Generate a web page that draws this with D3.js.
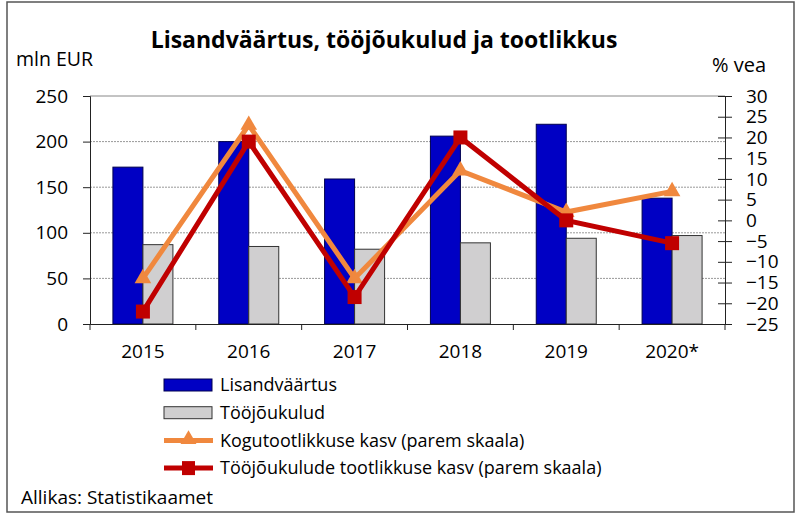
<!DOCTYPE html>
<html>
<head>
<meta charset="utf-8">
<script src="https://d3js.org/d3.v7.min.js"></script>
<style>
    body { margin: 0; background: #fff; }
    text { font-family: "Open Sans", sans-serif; fill: #000; }
</style>
</head>
<body>
<script>
    var years = ["2015", "2016", "2017", "2018", "2019", "2020*"];
    var lisandvaartus = [172, 200, 159, 206, 219, 138];
    var toojoukulud = [87, 85, 82, 89, 94, 97];
    var kogutootlikkus = [-14, 23, -14, 12, 2, 7];
    var toojouTootlikkus = [-22, 19, -18.5, 20, 0, -5.5];
    var leftTicks = [0, 50, 100, 150, 200, 250];
    var rightTicks = [-25, -20, -15, -10, -5, 0, 5, 10, 15, 20, 25, 30];

    var width = 805, height = 524;
    var svg = d3.select("body").append("svg")
        .attr("width", width)
        .attr("height", height);

    // outer frame
    svg.append("rect")
        .attr("x", 7).attr("y", 2)
        .attr("width", 787).attr("height", 510)
        .attr("fill", "#fff")
        .attr("stroke", "#555")
        .attr("stroke-width", 1.5);

    var plotL = 90, plotR = 725, plotT = 96, plotB = 324;

    var x = d3.scaleBand().domain(years).range([plotL, plotR]);
    var yL = d3.scaleLinear().domain([0, 250]).range([plotB, plotT]);
    var yR = d3.scaleLinear().domain([-25, 30]).range([plotB, plotT]);

    // grid
    svg.append("g").selectAll("line")
        .data(leftTicks.filter(d => d > 0 && d < 250))
        .enter().append("line")
        .attr("x1", plotL).attr("x2", plotR)
        .attr("y1", d => yL(d)).attr("y2", d => yL(d))
        .attr("stroke", "#999")
        .attr("stroke-dasharray", "2,1");

    svg.append("line")
        .attr("x1", plotL).attr("x2", plotR)
        .attr("y1", plotT).attr("y2", plotT)
        .attr("stroke", "#888");

    // bars
    var barW = 30;
    var bars = svg.append("g");
    bars.selectAll(".blue").data(lisandvaartus).enter().append("rect")
        .attr("x", (d, i) => x(years[i]) + x.bandwidth() / 2 - barW)
        .attr("y", d => yL(d))
        .attr("width", barW)
        .attr("height", d => yL(0) - yL(d))
        .attr("fill", "#0000c4")
        .attr("stroke", "#000050")
        .attr("stroke-width", 1);
    bars.selectAll(".grey").data(toojoukulud).enter().append("rect")
        .attr("x", (d, i) => x(years[i]) + x.bandwidth() / 2)
        .attr("y", d => yL(d))
        .attr("width", barW)
        .attr("height", d => yL(0) - yL(d))
        .attr("fill", "#d0cfd0")
        .attr("stroke", "#333")
        .attr("stroke-width", 1);

    // axes
    var leftAxis = d3.axisLeft(yL).tickValues(leftTicks).tickSize(7).tickPadding(15);
    var gl = svg.append("g").attr("transform", `translate(${plotL},0)`).call(leftAxis);
    gl.select(".domain").attr("stroke", "#222");
    gl.selectAll(".tick line").attr("stroke", "#222");
    gl.selectAll("text").attr("font-size", 19).attr("font-family", "Open Sans, sans-serif").attr("fill", "#000");

    var rightAxis = d3.axisRight(yR).tickValues(rightTicks).tickSize(7).tickPadding(14);
    var gr = svg.append("g").attr("transform", `translate(${plotR},0)`).call(rightAxis);
    gr.select(".domain").attr("stroke", "#222");
    gr.selectAll(".tick line").attr("x1", -7).attr("stroke", "#222");
    gr.selectAll("text").attr("font-size", 19).attr("font-family", "Open Sans, sans-serif").attr("fill", "#000");

    var bottomAxis = d3.axisBottom(x).tickSize(0).tickPadding(21);
    var gb = svg.append("g").attr("transform", `translate(0,${plotB})`).call(bottomAxis);
    gb.select(".domain").attr("stroke", "#222");
    gb.selectAll("text").attr("font-size", 19).attr("font-family", "Open Sans, sans-serif").attr("fill", "#000");
    gb.selectAll(".sep").data(years.concat([null])).enter().append("line")
        .attr("x1", (d, i) => plotL + i * x.step()).attr("x2", (d, i) => plotL + i * x.step())
        .attr("y1", 0).attr("y2", 6)
        .attr("stroke", "#222");

    // lines
    var cx = i => x(years[i]) + x.bandwidth() / 2;
    var line = d3.line().x((d, i) => cx(i)).y(d => yR(d));

    svg.append("path").datum(kogutootlikkus)
        .attr("d", line)
        .attr("fill", "none")
        .attr("stroke", "#f0883e")
        .attr("stroke-width", 5);
    svg.append("g").selectAll("path").data(kogutootlikkus).enter().append("path")
        .attr("d", d3.symbol().type(d3.symbolTriangle).size(120))
        .attr("transform", (d, i) => `translate(${cx(i)},${yR(d)})`)
        .attr("fill", "#f0883e");

    svg.append("path").datum(toojouTootlikkus)
        .attr("d", line)
        .attr("fill", "none")
        .attr("stroke", "#c00000")
        .attr("stroke-width", 5);
    svg.append("g").selectAll("rect").data(toojouTootlikkus).enter().append("rect")
        .attr("x", (d, i) => cx(i) - 7)
        .attr("y", d => yR(d) - 7)
        .attr("width", 14).attr("height", 14)
        .attr("fill", "#c00000");

    // titles
    svg.append("text")
        .attr("x", 384).attr("y", 47.5)
        .attr("text-anchor", "middle")
        .attr("font-size", 23)
        .attr("font-weight", "bold")
        .text("Lisandväärtus, tööjõukulud ja tootlikkus");
    svg.append("text").attr("x", 16).attr("y", 65.5).attr("font-size", 19.5).text("mln EUR");
    svg.append("text").attr("x", 712).attr("y", 72).attr("font-size", 20).text("% vea");

    // legend
    var legendItems = [
        { label: "Lisandväärtus", type: "bar", color: "#0000c4", stroke: "#000050" },
        { label: "Tööjõukulud", type: "bar", color: "#d0cfd0", stroke: "#333" },
        { label: "Kogutootlikkuse kasv  (parem skaala)", type: "tri", color: "#f0883e" },
        { label: "Tööjõukulude tootlikkuse kasv (parem skaala)", type: "sq", color: "#c00000" }
    ];
    var lg = svg.append("g").attr("transform", "translate(164,385)");
    legendItems.forEach((it, i) => {
        var g = lg.append("g").attr("transform", `translate(0,${i * 27.7})`);
        if (it.type === "bar") {
            g.append("rect").attr("x", 0).attr("y", -6).attr("width", 48).attr("height", 12)
                .attr("fill", it.color).attr("stroke", it.stroke);
        } else {
            g.append("line").attr("x1", 0).attr("x2", 49).attr("y1", 0).attr("y2", 0)
                .attr("stroke", it.color).attr("stroke-width", 5);
            if (it.type === "tri") {
                g.append("path").attr("d", d3.symbol().type(d3.symbolTriangle).size(110))
                    .attr("transform", "translate(24.5,-1)").attr("fill", it.color);
            } else {
                g.append("rect").attr("x", 18).attr("y", -7).attr("width", 13).attr("height", 14)
                    .attr("fill", it.color);
            }
        }
        g.append("text").attr("x", 56).attr("y", 0).attr("dy", "0.35em")
            .attr("font-size", 18).text(it.label);
    });

    svg.append("text").attr("x", 21).attr("y", 497).attr("dy", "0.35em").attr("font-size", 19).text("Allikas: Statistikaamet");
</script>
</body>
</html>
